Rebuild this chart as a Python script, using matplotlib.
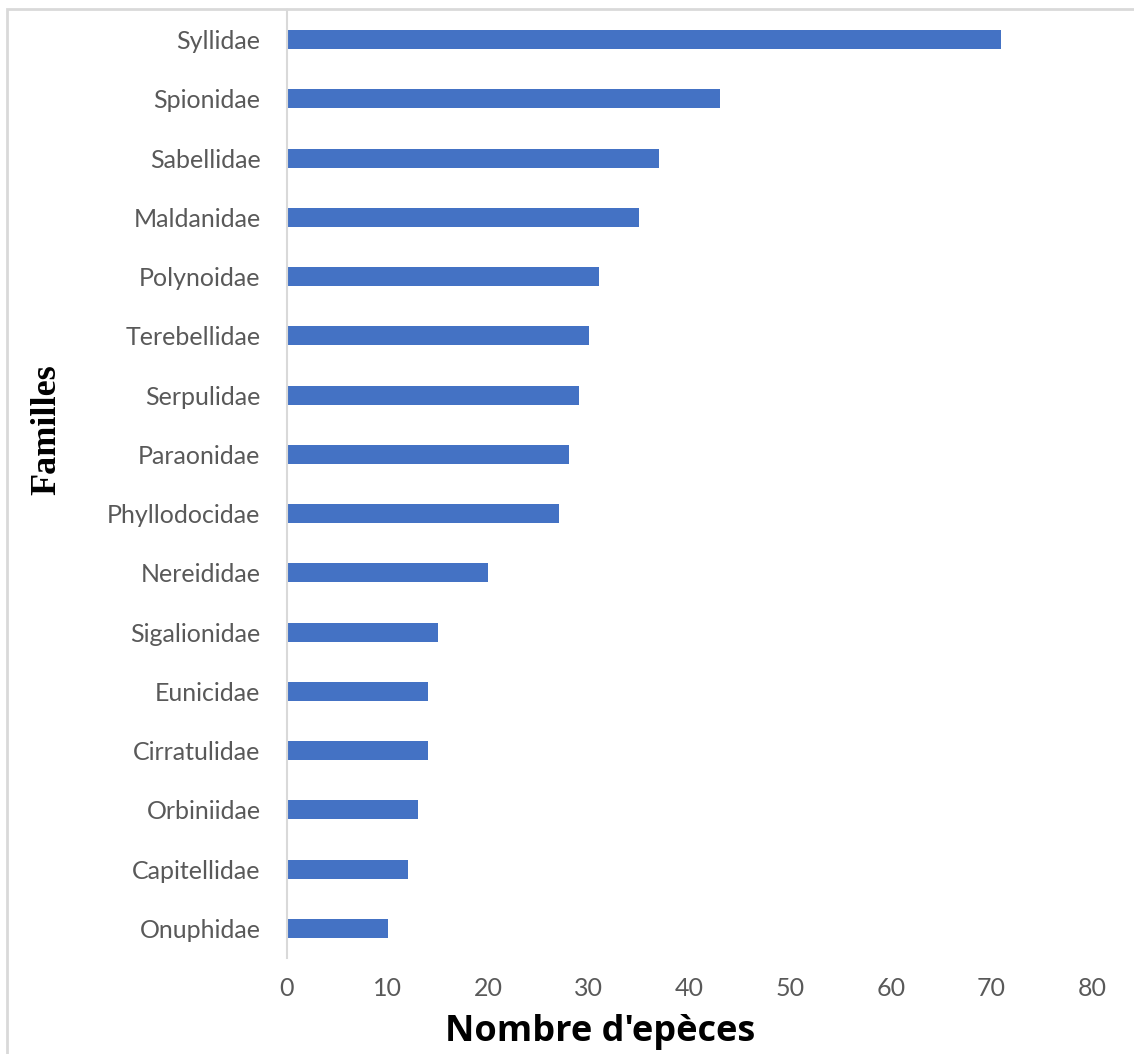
import matplotlib.pyplot as plt
from matplotlib.patches import Rectangle

# data
familles = ['Syllidae', 'Spionidae', 'Sabellidae', 'Maldanidae', 'Polynoidae',
            'Terebellidae', 'Serpulidae', 'Paraonidae', 'Phyllodocidae',
            'Nereididae', 'Sigalionidae', 'Eunicidae', 'Cirratulidae',
            'Orbiniidae', 'Capitellidae', 'Onuphidae']
especes = [71, 43, 37, 35, 31, 30, 29, 28, 27, 20, 15, 14, 14, 13, 12, 10]
xticks = [0, 10, 20, 30, 40, 50, 60, 70, 80]

W, H = 1134, 1054


def main():
    fig = plt.figure(figsize=(W / 100, H / 100), dpi=100)
    # light frame around the chart area
    fig.patches.append(Rectangle((7 / W, -0.05), 1.1, 1 - 9 / H + 0.05,
                                 transform=fig.transFigure, fill=False,
                                 edgecolor='#d9d9d9', linewidth=2.0))
    ax = fig.add_axes([287 / W, 1 - 958 / H, (1092 - 287) / W, (958 - 10) / H])

    y = list(range(len(familles)))
    ax.barh(y, especes, height=0.32, color='#4472c4')
    ax.set_ylim(len(familles) - 0.5, -0.5)
    ax.set_xlim(0, 80)
    ax.set_xticks(xticks)
    ax.set_yticks(y)
    ax.set_yticklabels(familles)

    for s in ['top', 'right', 'bottom']:
        ax.spines[s].set_visible(False)
    ax.spines['left'].set_color('#d9d9d9')
    ax.spines['left'].set_linewidth(1.5)
    ax.tick_params(length=0, colors='#595959', labelsize=18)
    ax.tick_params(axis='y', pad=19)
    ax.tick_params(axis='x', pad=14)
    for lab in ax.get_xticklabels() + ax.get_yticklabels():
        lab.set_family('Lato')

    fig.text(600 / W, 1 - 1032 / H, "Nombre d'epèces", ha='center', va='center',
             fontsize=26, fontweight='bold', family='Open Sans')
    fig.text(47 / W, 1 - 430 / H, 'Familles', ha='center', va='center',
             rotation=90, fontsize=26, fontweight='bold',
             family='Liberation Serif')

    fig.savefig('out.png', dpi=100)


if __name__ == '__main__':
    main()
